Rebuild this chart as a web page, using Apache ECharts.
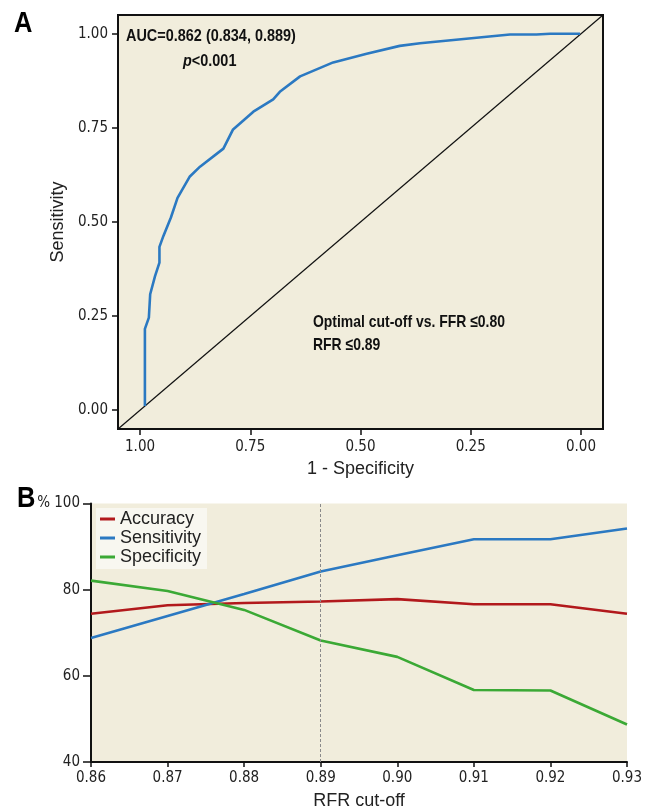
<!DOCTYPE html>
<html>
<head>
<meta charset="utf-8">
<script src="https://cdn.jsdelivr.net/npm/echarts@6/dist/echarts.min.js"></script>
<style>
html,body{margin:0;padding:0;background:#fff;}
#c{width:651px;height:811px;}
</style>
</head>
<body>
<div id="c"></div>
<script>
// Panel A: ROC curve (x axis shown reversed, 1.00 -> 0.00)
const rocX = [0.989, 0.989, 0.980, 0.977, 0.966, 0.956, 0.956, 0.947, 0.930, 0.915, 0.887, 0.864, 0.811, 0.789, 0.743, 0.698, 0.683, 0.637, 0.562, 0.486, 0.411, 0.365, 0.161, 0.101, 0.070, 0.002];
const rocY = [0.011, 0.216, 0.246, 0.308, 0.356, 0.392, 0.434, 0.463, 0.512, 0.564, 0.621, 0.647, 0.695, 0.746, 0.793, 0.826, 0.846, 0.887, 0.924, 0.947, 0.968, 0.975, 0.998, 0.998, 1.0, 1.0];
const diagX = [1.05, -0.05];
const diagY = [-0.05, 1.05];
const rocTicks = [0, 0.25, 0.5, 0.75, 1];

// Panel B
const cutoffs = ['0.86', '0.87', '0.88', '0.89', '0.90', '0.91', '0.92', '0.93'];
const accuracy = [74.4, 76.4, 76.9, 77.25, 77.8, 76.6, 76.6, 74.4];
const sensitivity = [68.8, 73.9, 79.0, 84.2, 88.0, 91.7, 91.7, 94.2];
const specificity = [82.1, 79.7, 75.3, 68.2, 64.4, 56.7, 56.6, 48.7];
const optimalCutoff = '0.89';

const NARROW = '"Liberation Sans Narrow","DejaVu Sans Condensed","Liberation Sans",sans-serif';
const SANS = '"Liberation Sans",Arial,sans-serif';
const BG = '#F1EDDC';

const chart = echarts.init(document.getElementById('c'), null, {renderer: 'canvas'});
const zip = (a, b) => a.map((v, i) => [v, b[i]]);

chart.setOption({
  animation: false,
  backgroundColor: '#fff',
  grid: [
    {left: 118, top: 15, width: 485, height: 414, show: true, backgroundColor: BG, borderColor: '#111', borderWidth: 2},
    {left: 91, top: 503.5, width: 536, height: 259, show: true, backgroundColor: BG, borderWidth: 0}
  ],
  xAxis: [
    {
      gridIndex: 0, type: 'value', inverse: true, min: -0.05, max: 1.05,
      name: '1 - Specificity', nameLocation: 'middle', nameGap: 29,
      nameTextStyle: {fontFamily: SANS, fontSize: 18, color: '#222'},
      axisLine: {show: true, onZero: false, lineStyle: {color: '#111', width: 2}},
      axisTick: {show: true, customValues: rocTicks, length: 6, lineStyle: {color: '#111', width: 1.5}},
      axisLabel: {customValues: rocTicks, formatter: v => v.toFixed(2), fontFamily: NARROW, fontSize: 15, color: '#222', margin: 11},
      splitLine: {show: false}
    },
    {
      gridIndex: 1, type: 'category', data: cutoffs, boundaryGap: false,
      name: 'RFR cut-off', nameLocation: 'middle', nameGap: 30,
      nameTextStyle: {fontFamily: SANS, fontSize: 18, color: '#222'},
      axisLine: {show: true, lineStyle: {color: '#111', width: 2}},
      axisTick: {show: true, length: 5, alignWithLabel: true, lineStyle: {color: '#111', width: 1.5}},
      axisLabel: {fontFamily: NARROW, fontSize: 15, color: '#222', margin: 9},
      splitLine: {show: false}
    }
  ],
  yAxis: [
    {
      gridIndex: 0, type: 'value', min: -0.05, max: 1.05,
      name: 'Sensitivity', nameLocation: 'middle', nameGap: 51,
      nameTextStyle: {fontFamily: SANS, fontSize: 18, color: '#222'},
      axisLine: {show: true, onZero: false, lineStyle: {color: '#111', width: 2}},
      axisTick: {show: true, customValues: rocTicks, length: 6, lineStyle: {color: '#111', width: 1.5}},
      axisLabel: {customValues: rocTicks, formatter: v => v.toFixed(2), fontFamily: NARROW, fontSize: 15, color: '#222', margin: 10},
      splitLine: {show: false}
    },
    {
      gridIndex: 1, type: 'value', min: 40, max: 100, interval: 20,
      axisLine: {show: true, lineStyle: {color: '#111', width: 2}},
      axisTick: {show: true, length: 8, lineStyle: {color: '#111', width: 1.5}},
      axisLabel: {formatter: v => v === 100 ? '% 100' : String(v), fontFamily: NARROW, fontSize: 15, color: '#222', margin: 11},
      splitLine: {show: false}
    }
  ],
  legend: {
    left: 96, top: 508, orient: 'vertical',
    backgroundColor: '#F8F7F0', padding: [2, 6, 3, 4],
    icon: 'rect', itemWidth: 15, itemHeight: 3, itemGap: 1, itemTextGap: 8,
    textStyle: {fontFamily: SANS, fontSize: 18, color: '#222'},
    data: ['Accuracy', 'Sensitivity', 'Specificity']
  },
  series: [
    {
      type: 'line', xAxisIndex: 0, yAxisIndex: 0, data: zip(diagX, diagY),
      symbol: 'none', lineStyle: {color: '#111', width: 1.2}, silent: true
    },
    {
      type: 'line', xAxisIndex: 0, yAxisIndex: 0, data: zip(rocX, rocY),
      symbol: 'none', lineStyle: {color: '#2B79C2', width: 2.6}
    },
    {
      name: 'Accuracy', type: 'line', xAxisIndex: 1, yAxisIndex: 1, data: accuracy,
      symbol: 'none', itemStyle: {color: '#B2191C'}, lineStyle: {color: '#B2191C', width: 2.6},
      markLine: {
        silent: true, symbol: 'none', label: {show: false},
        lineStyle: {color: '#8a8a8a', type: [3, 2], width: 1},
        data: [{xAxis: optimalCutoff}]
      }
    },
    {
      name: 'Sensitivity', type: 'line', xAxisIndex: 1, yAxisIndex: 1, data: sensitivity,
      symbol: 'none', itemStyle: {color: '#2B79C2'}, lineStyle: {color: '#2B79C2', width: 2.6}
    },
    {
      name: 'Specificity', type: 'line', xAxisIndex: 1, yAxisIndex: 1, data: specificity,
      symbol: 'none', itemStyle: {color: '#3BA935'}, lineStyle: {color: '#3BA935', width: 2.6}
    }
  ],
  graphic: [
    {type: 'text', x: 14, y: 9, scaleX: 0.85, style: {text: 'A', font: 'bold 30px ' + SANS, fill: '#000'}},
    {type: 'text', x: 17, y: 484, scaleX: 0.85, style: {text: 'B', font: 'bold 30px ' + SANS, fill: '#000'}},
    {type: 'text', x: 126, y: 36, scaleX: 0.85, style: {text: 'AUC=0.862 (0.834, 0.889)', font: 'bold 17px ' + SANS, fill: '#111', verticalAlign: 'middle'}},
    {type: 'text', x: 183, y: 61, scaleX: 0.85, style: {text: '{i|p}<0.001', font: 'bold 17px ' + SANS, fill: '#111', verticalAlign: 'middle',
      rich: {i: {fontStyle: 'italic', fontWeight: 'bold', fontSize: 17, fontFamily: SANS}}}},
    {type: 'text', x: 313, y: 322, scaleX: 0.82, style: {text: 'Optimal cut-off vs. FFR \u22640.80', font: 'bold 17px ' + SANS, fill: '#111', verticalAlign: 'middle'}},
    {type: 'text', x: 313, y: 345, scaleX: 0.82, style: {text: 'RFR \u22640.89', font: 'bold 17px ' + SANS, fill: '#111', verticalAlign: 'middle'}}
  ]
});
</script>
</body>
</html>
